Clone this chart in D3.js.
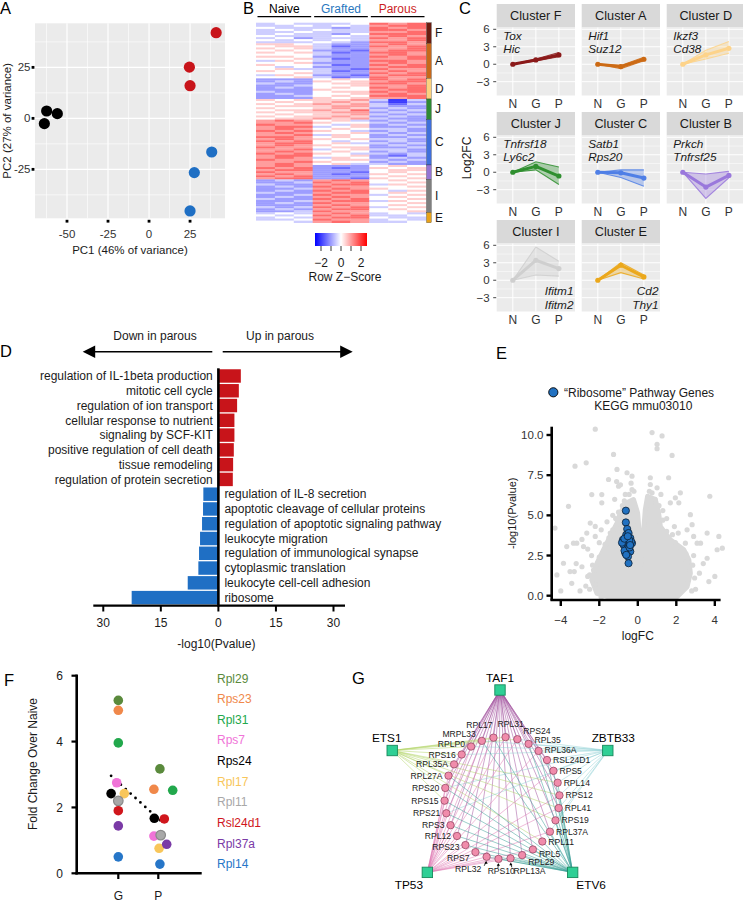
<!DOCTYPE html>
<html>
<head>
<meta charset="utf-8">
<script src="https://cdn.jsdelivr.net/npm/d3@7/dist/d3.min.js"></script>
<style>
html,body{margin:0;padding:0;background:#fff;}
svg{display:block;}
svg text{font-family:"Liberation Sans",Arial,Helvetica,sans-serif;}
</style>
</head>
<body>
<svg id="fig" width="743" height="902" viewBox="0 0 743 902"></svg>
<script>
// ======================= DATA =======================
// --- A: PCA ---
const pcaGroup = ["Naive","Naive","Naive","Grafted","Grafted","Grafted","Parous","Parous","Parous"];
const pc1 = [-62.4,-55.9,-63.8, 27.6,25.0,38.2, 24.6,25.0,40.9];
const pc2 = [3.6,2.3,-2.6, -26.6,-45.4,-16.5, 25.1,16.0,42.0];
const pcaXTicks = [-50,-25,0,25];
const pcaYTicks = [-25,0,25];

// --- B: heatmap (each digit d = Row Z-score (d-4)/2; columns N1 N2 N3 G1 G2 G3 P1 P2 P3) ---
const heatGroups = ["Naive","Grafted","Parous"];
const heatColumns = ["N1","N2","N3","G1","G2","G3","P1","P2","P3"];
const heatClusters = ["F","A","D","J","C","B","I","E"];
const heatRowsF = ["343334767","334343677","433323767","343433776","334333667","343324777","433343676","342333767","434343667","333432776"];
const heatRowsA = ["554322676","455312767","545322667","454221677","545312776","444322676","554222767","445312667","354322776","445222676","544312767","434222677","453321766","544312676","445322767","354221677","445312766"];
const heatRowsD = ["222454767","232545677","322455776","223445667","232454767","222544677","322455767","232445676","223454777","222545667"];
const heatRowsJ = ["545556303","454565202","545656313","455566322","544565232","455657323","545566232","454556323","545565232","455656322"];
const heatRowsC = ["676453232","667544323","766435232","677345223","676454332","767543232","676445323","667354232","776454223","676545332","767434232","677453323","676544232","766455223","667345332","676454232","767543323","677445213","676354232","766455323","667544232","676453322"];
const heatRowsB = ["676222454","767212545","677222455","766221454","676212545","767222454","677221545"];
const heatRowsI = ["232676454","223767445","322677354","232766445","223676544","232767435","322677454","223766345","232676454","322767445","223677354","232766445","222676454","323767345","232677454","223766445"];
const heatRowsE = ["343676343","434767334","343677433","334766343","443676334"];
const zTicks = [-2,-1,0,1,2];
const zTickLabels = [-2,0,2];

// --- C: cluster trajectories (Log2FC at N, G, P) ---
const stages = ["N","G","P"];
const clusterOrder = ["F","A","D","J","C","B","I","E"];
const clusterMean = [[0,0.74,1.6],[0,-0.4,0.86],[0,1.6,2.74],[0,1.0,-0.65],[0,-0.1,-1.0],[0,-2.55,-0.55],[0,3.43,2.0],[0,2.57,0.57]];
const clusterLow  = [[0,0.55,1.3],[0,-0.75,0.6],[0,0.9,1.9],[0,0.4,-2.1],[0,-0.9,-2.4],[0,-4.5,-0.95],[0,0.9,0.7],[0,1.3,0.2]];
const clusterHigh = [[0,0.9,2.0],[0,-0.2,1.2],[0,2.4,3.9],[0,1.8,0.9],[0,0.4,0.4],[0,-0.3,0.15],[0,5.7,3.26],[0,3.0,0.9]];
const clusterGenes = [["Tox","Hic"],["Hif1","Suz12"],["Ikzf3","Cd38"],["Tnfrsf18","Ly6c2"],["Satb1","Rps20"],["Prkch","Tnfrsf25"],["Ifitm1","Ifitm2"],["Cd2","Thy1"]];
const log2fcTicks = [-3,0,3,6];

// --- D: GO terms ---
const goTerms = ["regulation of IL-1beta production","mitotic cell cycle","regulation of ion transport","cellular response to nutrient","signaling by SCF-KIT","positive regulation of cell death","tissue remodeling","regulation of protein secretion","regulation of IL-8 secretion","apoptotic cleavage of cellular proteins","regulation of apoptotic signaling pathway","leukocyte migration","regulation of immunological synapse","cytoplasmic translation","leukocyte cell-cell adhesion","ribosome"];
const goNegLog10P = [5.85,5.33,4.88,4.18,4.18,4.02,3.84,3.76,3.92,4.0,4.26,4.78,5.04,5.22,7.99,22.6];
const goDirection = ["up","up","up","up","up","up","up","up","down","down","down","down","down","down","down","down"];
const goTicks = [-30,-15,0,15,30];

// --- E: volcano ---
const bgLogFC = [-2.21,0.74,1.26,1.0,1.0,-1.26,1.78,-3.26,-2.68,-1.08,-0.56,-0.3,-1.52,-1.1,-1.0,-0.35,-0.3,0.65,0.74,1.0,1.6,0.65,1.95,2.13,3.74,1.69,2.73,-1.87,-3.6,-4.3,-3.17,-2.9,-2.65,-2.21,-2.0,-2.6,-1.6,-1.43,2.56,2.9,2.47,3.26,3.6,4.21,4.12,4.39,2.9,2.3,-3.86,-4.2,-3.43,-3.2,-3.3,3.69,4.0,3.2,-1.87,-2.39,-0.65,-2.47,-2.21,-3.34,-2.82,-3.69,-3.52,-2.2,-2.7,3.6,3.08,2.82,2.21,-1.3,-1.6,-1.9,1.3,1.5,1.9,2.1,-2.4,-2.9,-1.2,0.9,1.2,-4.0,-3.0,3.0,3.4,-2.5,2.6,-0.9,
  -2.5,-2.6,-2.3,-2.0,-1.7,-1.3,-1.15,-0.8,-0.45,-0.2,0.6,1.1,1.3,1.5,1.95,2.5,2.85,2.95,2.8,-1.9,1.5,-2.35,2.6,1.8,-1.5,0.7,-0.7,-1.0];
const bgP     = [10.36,10.15,9.94,9.42,9.15,8.79,8.73,8.06,8.27,7.86,7.65,7.44,7.23,7.1,6.81,7.0,6.6,6.92,6.4,6.71,7.34,7.34,6.09,5.78,6.19,5.78,5.04,5.78,5.56,4.21,3.27,3.5,3.9,3.69,3.3,2.9,3.27,3.9,4.1,3.69,3.27,3.27,3.9,3.69,2.86,2.96,2.5,2.3,2.02,1.29,0.77,2.0,1.5,0.88,1.2,1.4,6.29,6.29,6.3,4.52,4.31,3.27,3.06,3.06,1.5,0.7,0.6,2.33,3.27,4.42,6.4,5.0,4.6,4.1,5.3,4.8,4.3,3.9,2.5,1.8,6.0,6.0,6.3,0.3,0.3,0.4,2.0,1.3,1.0,6.9,
  0.4,1.2,1.6,2.4,3.2,4.1,4.8,5.6,6.3,6.5,6.5,5.6,4.7,4.0,3.3,2.6,1.9,1.1,0.3,-0.1,-0.15,1.9,2.1,3.8,3.6,5.8,5.9,5.2];
const denseLogFC = [-2.12,-2.39,-2.12,-1.78,-1.43,-1.08,-0.91,-0.56,-0.22,-0.01,0.10,0.13,0.27,0.39,0.51,0.91,1.08,1.17,1.69,2.39,2.65,2.73,2.56,2.04,0.3,-1.26];
const denseP     = [0.15,0.98,2.02,2.86,3.69,4.52,5.15,5.78,5.98,5.15,3.48,1.81,3.48,5.36,6.19,5.98,5.15,4.31,3.48,2.86,2.23,1.40,0.56,-0.06,-0.15,-0.16];
const riboLogFC = [-0.62,-0.62,-0.55,-0.6,-0.77,-0.39,-0.56,-0.3,-0.74,-0.48,-0.56,-0.39,-0.65,-0.51,-0.6,-0.35,-0.82,-0.48,-0.69,-0.43,-0.48,-0.6,-0.45,-0.7,-0.52,-0.4];
const riboP     = [5.29,4.56,4.15,3.79,3.48,3.59,3.38,3.27,3.17,3.06,2.9,2.75,2.65,2.44,3.6,3.38,3.3,3.9,2.8,3.0,2.02,2.54,3.45,3.55,3.7,3.15];
const volXTicks = [-4,-2,0,2,4];
const volYTicks = [0,2.5,5,7.5,10];

// --- F: fold change ---
const fGenes = ["Rpl29","Rps23","Rpl31","Rps7","Rps24","Rpl17","Rpl11","Rsl24d1","Rpl37a","Rpl14"];
const foldG = [5.25,4.95,3.96,2.75,2.42,2.42,2.2,1.9,1.44,0.5];
const foldP = [3.17,2.55,2.52,1.13,1.67,0.76,1.16,1.65,0.88,0.28];
const jitterG = [0,0,0,-0.04,-0.18,0.15,0,0,0,0];
const jitterP = [0.04,-0.11,0.36,-0.11,-0.1,0.02,0.06,0.15,0.21,0.04];
const trendFold = [2.96,1.52];
const foldTicks = [0,2,4,6];
const fCategories = ["G","P"];

// --- G: network ---
const tfNames = ["TAF1","ZBTB33","ETV6","TP53","ETS1"];
const ringGenes = ["RPL17","RPL31","RPS24","RPL35","RPL36A","RSL24D1","RPS5","RPL14","RPS12","RPL41","RPS19","RPL37A","RPL11","RPL5","RPL29","RPL13A","RPS10","RPL32","RPS7","RPS23","RPL12","RPS3","RPS21","RPS15","RPS20","RPL27A","RPL35A","RPS16","RPLP0","MRPL33"];
const targetsTAF1 = ringGenes.slice();
const targetsZBTB33 = ["RPS24","RPL35","RPL36A","RSL24D1","RPS5","RPL14","RPS12","RPL41","RPS19","RPL37A","MRPL33","RPLP0","RPS16","RPS20","RPS21"];
const targetsETV6 = ["RPL29","RPL13A","RPS10","RPL32","RPS7","RPL5","RPL11","RPL37A","RPS19","RPL41","RPS12","RPL14","RPS5","RSL24D1","RPL36A","RPL35","RPS23","RPL12","RPS3","RPS21","RPS15","RPS20","RPL27A","MRPL33","RPL17"];
const targetsTP53 = ["RPS3","RPL12","RPS23","RPS7","RPL32","RPS10","RPL13A","RPS21","RPS15","RPS20","RPL27A","RPL35A","RPS16","RPLP0","MRPL33","RPL17","RPL31","RPS24","RPL36A","RPS5","RPS12","RPL41","RPL37A","RPL5"];
const targetsETS1 = ["MRPL33","RPLP0","RPS16","RPL35A","RPL27A","RPS20","RPS15","RPL17","RPL31","RPS24","RPL14","RPS12","RPL41","RPS19","RPL11"];

// ======================= DRAWING =======================
const svg = d3.select("#fig");
const TXT = "#1a1a1a", AX = "#333333";

function letter(t,x,y){ svg.append("text").attr("x",x).attr("y",y).attr("font-size",16.5).attr("fill","#000").text(t); }
letter("A",0,14); letter("B",243,14); letter("C",459,14); letter("D",0,357); letter("E",496,359); letter("F",4,686); letter("G",352,684);

// ---------- A ----------
(function(){
  const L=35,R=225,T=23.3,B=218.3;
  const x=d3.scaleLinear().domain([-69.5,46.3]).range([L,R]);
  const y=d3.scaleLinear().domain([-49,46.6]).range([B,T]);
  const g=svg.append("g");
  g.append("rect").attr("x",L).attr("y",T).attr("width",R-L).attr("height",B-T).attr("fill","#ebebeb");
  const xMinor=[pcaXTicks[0]-12.5].concat(pcaXTicks.map(v=>v+12.5));
  const yMinor=[pcaYTicks[0]-12.5].concat(pcaYTicks.map(v=>v+12.5));
  g.selectAll(null).data(xMinor).join("line").attr("x1",d=>x(d)).attr("x2",d=>x(d)).attr("y1",T).attr("y2",B).attr("stroke","#fff").attr("stroke-width",0.6);
  g.selectAll(null).data(yMinor).join("line").attr("y1",d=>y(d)).attr("y2",d=>y(d)).attr("x1",L).attr("x2",R).attr("stroke","#fff").attr("stroke-width",0.6);
  g.selectAll(null).data(pcaXTicks).join("line").attr("x1",d=>x(d)).attr("x2",d=>x(d)).attr("y1",T).attr("y2",B).attr("stroke","#fff").attr("stroke-width",1.2);
  g.selectAll(null).data(pcaYTicks).join("line").attr("y1",d=>y(d)).attr("y2",d=>y(d)).attr("x1",L).attr("x2",R).attr("stroke","#fff").attr("stroke-width",1.2);
  g.selectAll(null).data(pcaXTicks).join("rect").attr("x",d=>x(d)-1.4).attr("y",B+1.5).attr("width",2.8).attr("height",2.8).attr("fill","#000");
  g.selectAll(null).data(pcaYTicks).join("rect").attr("x",L-3.4).attr("y",d=>y(d)-1.4).attr("width",2.8).attr("height",2.8).attr("fill","#000");
  g.selectAll(null).data(pcaXTicks).join("text").attr("x",d=>x(d)).attr("y",237.5).attr("text-anchor","middle").attr("font-size",11.5).attr("fill",AX).text(d=>d3.format("")(d).replace("\u2212","-"));
  g.selectAll(null).data(pcaYTicks).join("text").attr("x",30.5).attr("y",d=>y(d)+4).attr("text-anchor","end").attr("font-size",11.5).attr("fill",AX).text(d=>d3.format("")(d).replace("\u2212","-"));
  const col={Naive:"#000000",Grafted:"#1f6fc4",Parous:"#c8141a"};
  g.selectAll(null).data(pc1.map((v,i)=>({x:v,y:pc2[i],g:pcaGroup[i]}))).join("circle")
    .attr("cx",d=>x(d.x)).attr("cy",d=>y(d.y)).attr("r",5.6).attr("fill",d=>col[d.g]);
  g.append("text").attr("x",(L+R)/2).attr("y",254).attr("text-anchor","middle").attr("font-size",11.5).attr("fill",TXT).text("PC1 (46% of variance)");
  g.append("text").attr("transform",`translate(11,${(T+B)/2}) rotate(-90)`).attr("text-anchor","middle").attr("font-size",11.5).attr("fill",TXT).text("PC2 (27% of variance)");
})();

// ---------- B ----------
const zColor = d3.scaleLinear().domain([-2.6,0,2.6]).range(["#0000ff","#ffffff","#ff0000"]).clamp(true);
(function(){
  const L=256,R=426,T=22.7,B=222.7;
  const clusterRows={F:heatRowsF,A:heatRowsA,D:heatRowsD,J:heatRowsJ,C:heatRowsC,B:heatRowsB,I:heatRowsI,E:heatRowsE};
  const rows=[];
  heatClusters.forEach(c=>clusterRows[c].forEach(s=>rows.push({c,s})));
  const x=d3.scaleBand().domain(heatColumns).range([L,R]);
  const y=d3.scaleBand().domain(d3.range(rows.length)).range([T,B]);
  const g=svg.append("g");
  const cells=[];
  rows.forEach((r,i)=>heatColumns.forEach((col,j)=>cells.push({i,col,z:(+r.s[j]-4)/2})));
  g.selectAll(null).data(cells).join("rect").attr("x",d=>x(d.col)).attr("y",d=>y(d.i)).attr("width",x.bandwidth()+0.3).attr("height",y.bandwidth()+0.3).attr("fill",d=>zColor(d.z));
  const gc={Naive:"#000",Grafted:"#2a78c0",Parous:"#cc1f1f"};
  heatGroups.forEach((grp,k)=>{
    const x0=x(heatColumns[k*3]), x1=x(heatColumns[k*3+2])+x.bandwidth();
    g.append("line").attr("x1",x0+1.5).attr("x2",x1-1.5).attr("y1",16.7).attr("y2",16.7).attr("stroke","#000").attr("stroke-width",1.3);
    g.append("text").attr("x",(x0+x1)/2).attr("y",13).attr("text-anchor","middle").attr("font-size",12).attr("fill",gc[grp]).text(grp);
  });
  const cc={F:"#6b1c10",A:"#c8691a",D:"#fcd27e",J:"#2e8a34",C:"#3f6fdc",B:"#9573d4",I:"#7f7f7f",E:"#e8a21a"};
  heatClusters.forEach(c=>{
    const idx=rows.map((r,i)=>r.c===c?i:-1).filter(i=>i>=0);
    const y0=y(idx[0]), y1=y(idx[idx.length-1])+y.bandwidth();
    g.append("rect").attr("x",R+0.5).attr("y",y0).attr("width",4.8).attr("height",y1-y0).attr("fill",cc[c]).attr("stroke","#222").attr("stroke-width",0.3);
    g.append("text").attr("x",R+9).attr("y",(y0+y1)/2+4.2).attr("font-size",12).attr("fill",TXT).text(c);
  });
  const k=d3.scaleLinear().domain([-2.6,2.6]).range([315,367]);
  const defs=svg.append("defs");
  const lg=defs.append("linearGradient").attr("id","zgrad");
  d3.range(0,1.0001,0.1).forEach(t=>lg.append("stop").attr("offset",t).attr("stop-color",zColor(-2.6+5.2*t)));
  g.append("rect").attr("x",315).attr("y",233).attr("width",52).attr("height",13).attr("fill","url(#zgrad)");
  g.selectAll(null).data(zTicks).join("line").attr("x1",d=>k(d)).attr("x2",d=>k(d)).attr("y1",246).attr("y2",251).attr("stroke","#000").attr("stroke-width",0.8);
  g.selectAll(null).data(zTickLabels).join("text").attr("x",d=>k(d)).attr("y",266.5).attr("text-anchor","middle").attr("font-size",12).attr("fill",TXT).text(d=>d3.format("")(d));
  g.append("text").attr("x",345).attr("y",281).attr("text-anchor","middle").attr("font-size",12).attr("fill",TXT).text("Row Z\u2212Score");
})();

// ---------- C ----------
(function(){
  const colX=[496.7,581.7,666.7], W=78.3, stripH=23.5, H=68;
  const ccol={F:"#8b1a1a",A:"#cc6a14",D:"#fdd38a",J:"#2f8f2f",C:"#4f7fe6",B:"#9a78dc",I:"#cfcfcf",E:"#eba81c"};
  const g=svg.append("g");
  clusterOrder.forEach((c,k)=>{
    const col=k%3,row=Math.floor(k/3);
    const L=colX[col], sT=4+row*108, T=sT+stripH, B=T+H;
    const x=d3.scalePoint().domain(stages).range([L,L+W]).padding(0.7);
    const y=d3.scaleLinear().domain([-5.37,6.31]).range([B,T]);
    g.append("rect").attr("x",L).attr("y",sT).attr("width",W).attr("height",stripH).attr("fill","#d9d9d9");
    g.append("text").attr("x",L+W/2).attr("y",sT+stripH/2+4.5).attr("text-anchor","middle").attr("font-size",12.7).attr("fill",TXT).text("Cluster "+c);
    g.append("rect").attr("x",L).attr("y",T).attr("width",W).attr("height",H).attr("fill","#ebebeb");
    const minor=log2fcTicks.slice(0,-1).map(v=>v+1.5);
    g.selectAll(null).data(minor).join("line").attr("x1",L).attr("x2",L+W).attr("y1",d=>y(d)).attr("y2",d=>y(d)).attr("stroke","#fff").attr("stroke-width",0.5);
    g.selectAll(null).data(log2fcTicks).join("line").attr("x1",L).attr("x2",L+W).attr("y1",d=>y(d)).attr("y2",d=>y(d)).attr("stroke","#fff").attr("stroke-width",1);
    g.selectAll(null).data(stages).join("line").attr("x1",d=>x(d)).attr("x2",d=>x(d)).attr("y1",T).attr("y2",B).attr("stroke","#fff").attr("stroke-width",1);
    const pts=stages.map((s,i)=>({s,m:clusterMean[k][i],lo:clusterLow[k][i],hi:clusterHigh[k][i]}));
    const color=ccol[c];
    g.append("path").datum(pts).attr("d",d3.area().x(d=>x(d.s)).y0(d=>y(d.lo)).y1(d=>y(d.hi))).attr("fill",color).attr("fill-opacity",0.35);
    ["lo","hi"].forEach(key=>g.append("path").datum(pts).attr("d",d3.line().x(d=>x(d.s)).y(d=>y(d[key]))).attr("fill","none").attr("stroke",color).attr("stroke-width",1.1).attr("stroke-opacity",0.85));
    g.append("path").datum(pts).attr("d",d3.line().x(d=>x(d.s)).y(d=>y(d.m))).attr("fill","none").attr("stroke",color).attr("stroke-width",3).attr("stroke-linejoin","round");
    g.selectAll(null).data(pts).join("circle").attr("cx",d=>x(d.s)).attr("cy",d=>y(d.m)).attr("r",2.6).attr("fill",color);
    const genes=clusterGenes[k];
    if(row<2){
      genes.forEach((t,i)=>g.append("text").attr("x",L+6.5).attr("y",T+12+i*13).attr("font-size",11.8).attr("font-style","italic").attr("fill",TXT).text(t));
    } else {
      genes.forEach((t,i)=>g.append("text").attr("x",L+W-1.5).attr("y",T+51+i*14).attr("text-anchor","end").attr("font-size",11.8).attr("font-style","italic").attr("fill",TXT).text(t));
    }
    g.selectAll(null).data(stages).join("text").attr("x",d=>x(d)).attr("y",B+12.5).attr("text-anchor","middle").attr("font-size",12).attr("fill",AX).text(d=>d);
    if(col===0){
      g.selectAll(null).data(log2fcTicks).join("line").attr("x1",L-3.5).attr("x2",L-0.5).attr("y1",d=>y(d)).attr("y2",d=>y(d)).attr("stroke",AX).attr("stroke-width",0.9);
      g.selectAll(null).data(log2fcTicks).join("text").attr("x",L-7).attr("y",d=>y(d)+4).attr("text-anchor","end").attr("font-size",11.5).attr("fill",AX).text(d=>d3.format("")(d));
    }
  });
  g.append("text").attr("transform","translate(471,158) rotate(-90)").attr("text-anchor","middle").attr("font-size",12).attr("fill",TXT).text("Log2FC");
})();

// ---------- D ----------
(function(){
  const g=svg.append("g");
  const x=d3.scaleLinear().domain([-32.6,33]).range([93.3,345]);
  const y=d3.scaleBand().domain(goTerms).range([368.6,605]).paddingInner(0.09).paddingOuter(0.045);
  const data=goTerms.map((t,i)=>({t,v:goNegLog10P[i],dir:goDirection[i]}));
  g.selectAll(null).data(data).join("rect")
    .attr("x",d=>d.dir==="up"?x(0):x(-d.v)).attr("y",d=>y(d.t)).attr("width",d=>Math.abs(x(d.v)-x(0))).attr("height",y.bandwidth())
    .attr("fill",d=>d.dir==="up"?"#c8141a":"#1f6fc4");
  g.selectAll(null).data(data).join("text")
    .attr("x",d=>d.dir==="up"?x(0)-5.6:x(0)+6).attr("y",d=>y(d.t)+y.bandwidth()/2+4.2)
    .attr("text-anchor",d=>d.dir==="up"?"end":"start").attr("font-size",12).attr("fill",TXT).text(d=>d.t);
  g.append("line").attr("x1",x(0)).attr("x2",x(0)).attr("y1",368.3).attr("y2",606.5).attr("stroke","#000").attr("stroke-width",2.6);
  g.append("line").attr("x1",93.3).attr("x2",345).attr("y1",605.7).attr("y2",605.7).attr("stroke","#000").attr("stroke-width",2.2);
  g.selectAll(null).data(goTicks).join("line").attr("x1",d=>x(d)).attr("x2",d=>x(d)).attr("y1",605.7).attr("y2",611.5).attr("stroke","#000").attr("stroke-width",2);
  g.selectAll(null).data(goTicks).join("text").attr("x",d=>x(d)).attr("y",627).attr("text-anchor","middle").attr("font-size",12).attr("fill",TXT).text(d=>Math.abs(d));
  g.append("text").attr("x",x(0)-2).attr("y",647.5).attr("text-anchor","middle").attr("font-size",12).attr("fill",TXT).text("-log10(Pvalue)");
  const ay=351.7;
  g.append("line").attr("x1",212.3).attr("x2",94).attr("y1",ay).attr("y2",ay).attr("stroke","#000").attr("stroke-width",1.5);
  g.append("path").attr("d",`M82.7,${ay}L95.2,${ay-6.3}L95.2,${ay+6.3}Z`).attr("fill","#000");
  g.append("line").attr("x1",222.7).attr("x2",341).attr("y1",ay).attr("y2",ay).attr("stroke","#000").attr("stroke-width",1.5);
  g.append("path").attr("d",`M352.7,${ay}L340.2,${ay-6.3}L340.2,${ay+6.3}Z`).attr("fill","#000");
  g.append("text").attr("x",155).attr("y",339.5).attr("text-anchor","middle").attr("font-size",12).attr("fill",TXT).text("Down in parous");
  g.append("text").attr("x",280).attr("y",339.5).attr("text-anchor","middle").attr("font-size",12).attr("fill",TXT).text("Up in parous");
})();

// ---------- E ----------
(function(){
  const g=svg.append("g");
  const x=d3.scaleLinear().domain([-4.3,4.3]).range([555,720.6]);
  const y=d3.scaleLinear().domain([0,10]).range([595.7,435]);
  const gray="#d9d9d9";
  const outline=denseLogFC.map((v,i)=>[x(v),y(denseP[i])]);
  g.append("path").attr("d",d3.line().curve(d3.curveLinearClosed)(outline)).attr("fill",gray).attr("stroke",gray).attr("stroke-width",5).attr("stroke-linejoin","round");
  g.selectAll(null).data(bgLogFC.map((v,i)=>[v,bgP[i]])).join("circle").attr("cx",d=>x(d[0])).attr("cy",d=>y(d[1])).attr("r",2.6).attr("fill",gray);
  g.selectAll(null).data(riboLogFC.map((v,i)=>[v,riboP[i]])).join("circle").attr("cx",d=>x(d[0])).attr("cy",d=>y(d[1])).attr("r",3.6).attr("fill","#2171c1").attr("stroke","#0b1f33").attr("stroke-width",0.8);
  g.append("line").attr("x1",551.7).attr("x2",551.7).attr("y1",426.7).attr("y2",600.5).attr("stroke","#000").attr("stroke-width",2.6);
  g.append("line").attr("x1",550.5).attr("x2",720.6).attr("y1",600).attr("y2",600).attr("stroke","#000").attr("stroke-width",2.6);
  g.selectAll(null).data(volYTicks).join("line").attr("x1",546.5).attr("x2",551.7).attr("y1",d=>y(d)).attr("y2",d=>y(d)).attr("stroke","#000").attr("stroke-width",2.4);
  g.selectAll(null).data(volXTicks).join("line").attr("x1",d=>x(d)).attr("x2",d=>x(d)).attr("y1",600).attr("y2",606).attr("stroke","#000").attr("stroke-width",2.4);
  g.selectAll(null).data(volYTicks).join("text").attr("x",543.5).attr("y",d=>y(d)+4).attr("text-anchor","end").attr("font-size",11.5).attr("fill",AX).text(d=>d3.format(".1f")(d));
  g.selectAll(null).data(volXTicks).join("text").attr("x",d=>x(d)).attr("y",624).attr("text-anchor","middle").attr("font-size",11.5).attr("fill",AX).text(d=>d3.format("")(d));
  g.append("text").attr("x",x(0)).attr("y",639.5).attr("text-anchor","middle").attr("font-size",12).attr("fill",TXT).text("logFC");
  g.append("text").attr("transform",`translate(516,${(426.7+600)/2}) rotate(-90)`).attr("text-anchor","middle").attr("font-size",11).attr("fill",TXT).text("-log10(Pvalue)");
  g.append("circle").attr("cx",553.3).attr("cy",392.3).attr("r",4.6).attr("fill","#2171c1").attr("stroke","#000").attr("stroke-width",0.9);
  g.append("text").attr("x",564).attr("y",396.5).attr("font-size",12).attr("fill",TXT).text("\u201CRibosome\u201D Pathway Genes");
  g.append("text").attr("x",643.3).attr("y",409.5).attr("text-anchor","middle").attr("font-size",12).attr("fill",TXT).text("KEGG mmu03010");
})();

// ---------- F ----------
(function(){
  const g=svg.append("g");
  const x=d3.scalePoint().domain(fCategories).range([118.3,158.3]);
  const step=x.step();
  const y=d3.scaleLinear().domain([0,6]).range([873.3,675.7]);
  const fColors=["#5a8a3c","#f0884a","#22a84c","#f074d8","#000000","#f8c65a","#a8a8a8","#d0161c","#7a3aa6","#2676c8"];
  g.append("line").attr("x1",76.7).attr("x2",76.7).attr("y1",674.5).attr("y2",874.5).attr("stroke","#000").attr("stroke-width",2.6);
  g.append("line").attr("x1",75.4).attr("x2",201.7).attr("y1",873.3).attr("y2",873.3).attr("stroke","#000").attr("stroke-width",2.4);
  g.selectAll(null).data(foldTicks).join("line").attr("x1",71.5).attr("x2",76.7).attr("y1",d=>y(d)).attr("y2",d=>y(d)).attr("stroke","#000").attr("stroke-width",2.2);
  g.selectAll(null).data(fCategories).join("line").attr("x1",d=>x(d)).attr("x2",d=>x(d)).attr("y1",873.3).attr("y2",879).attr("stroke","#000").attr("stroke-width",2.2);
  g.selectAll(null).data(foldTicks).join("text").attr("x",63).attr("y",d=>y(d)+4.2).attr("text-anchor","end").attr("font-size",12).attr("fill",TXT).text(d=>d);
  g.selectAll(null).data(fCategories).join("text").attr("x",d=>x(d)).attr("y",899.5).attr("text-anchor","middle").attr("font-size",12).attr("fill",TXT).text(d=>d);
  g.append("text").attr("transform",`translate(37,764) rotate(-90)`).attr("text-anchor","middle").attr("font-size",12).attr("fill",TXT).text("Fold Change Over Naive");
  g.append("line").attr("x1",x("G")-0.18*step).attr("y1",y(trendFold[0])).attr("x2",x("P")+0.125*step).attr("y2",y(trendFold[1]))
    .attr("stroke","#000").attr("stroke-width",2.8).attr("stroke-linecap","round").attr("stroke-dasharray","0,6.6");
  const pts=[];
  fGenes.forEach((gn,i)=>{pts.push({c:"G",v:foldG[i],j:jitterG[i],col:fColors[i],gray:gn==="Rpl11"});});
  fGenes.forEach((gn,i)=>{pts.push({c:"P",v:foldP[i],j:jitterP[i],col:fColors[i],gray:gn==="Rpl11"});});
  g.selectAll(null).data(pts).join("circle").attr("cx",d=>x(d.c)+d.j*step).attr("cy",d=>y(d.v)).attr("r",4.8)
    .attr("fill",d=>d.col).attr("stroke",d=>d.gray?"#8a8a8a":"none").attr("stroke-width",1.2);
  g.selectAll(null).data(fGenes).join("text").attr("x",217).attr("y",(d,i)=>682.5+i*20.66).attr("font-size",12).attr("fill",(d,i)=>fColors[i]).text(d=>d);
})();

// ---------- G ----------
(function(){
  const g=svg.append("g");
  const rcx=502, rcy=798, rrx=57.5, rry=61, start=-8.5;
  const ring=ringGenes.map((name,i)=>{
    const a=(start+i*360/ringGenes.length)*Math.PI/180;
    return {name,a,x:rcx+rrx*Math.sin(a),y:rcy-rry*Math.cos(a)};
  });
  const byName=Object.fromEntries(ring.map(n=>[n.name,n]));
  const tfAngles=[0,66,142,218,294];
  const tcx=500,tcy=792,trx=118,try_=102;
  const tfs=tfNames.map((name,i)=>{const a=tfAngles[i]*Math.PI/180;return {name,a,x:tcx+trx*Math.sin(a),y:tcy-try_*Math.cos(a)};});
  const tfByName=Object.fromEntries(tfs.map(t=>[t.name,t]));
  const edgeSets=[["TAF1",targetsTAF1,"#a0509c"],["ETS1",targetsETS1,"#b3d66a"],["ZBTB33",targetsZBTB33,"#93d2d6"],["TP53",targetsTP53,"#e07ab4"],["ETV6",targetsETV6,"#3a9f96"]];
  edgeSets.forEach(([tf,list,color])=>{
    const t=tfByName[tf];
    g.selectAll(null).data(list).join("line").attr("x1",t.x).attr("y1",t.y).attr("x2",d=>byName[d].x).attr("y2",d=>byName[d].y)
      .attr("stroke",color).attr("stroke-width",0.6).attr("stroke-opacity",0.85);
  });
  g.selectAll(null).data(ring).join("circle").attr("cx",d=>d.x).attr("cy",d=>d.y).attr("r",3.7).attr("fill","#f08cab").attr("stroke","#8c3c5a").attr("stroke-width",0.7);
  ring.forEach(n=>{
    const s=Math.sin(n.a), c=Math.cos(n.a);
    let anchor, lx, ly, arrow=false;
    if(Math.abs(s)<0.2 && c>0){ anchor=s<0?"end":"start"; lx=n.x+(s<0?-1:-8); ly=n.y-10; }
    else if(Math.abs(s)<0.3 && c<0){ anchor=s>0.1?"start":(s<-0.1?"end":"middle"); lx=n.x+s*20+(anchor==="middle"?4:0); ly=n.y+15.5; arrow=true; }
    else {
      anchor=s>0?"start":"end"; lx=n.x+(s>0?6:-6);
      const shift = c>0 ? -126*Math.pow(Math.max(0,c-0.7),2) : Math.max(0,-c-0.7)*30;
      ly=n.y+3.1+shift;
    }
    g.append("text").attr("x",lx).attr("y",ly).attr("text-anchor",anchor).attr("font-size",8.6).attr("fill",TXT).text(n.name);
    if(arrow){
      const ax=n.x+s*9, ay=n.y+9;
      g.append("line").attr("x1",ax).attr("y1",ay).attr("x2",n.x+s*2).attr("y2",n.y+5).attr("stroke","#000").attr("stroke-width",0.8);
      g.append("path").attr("d",`M${n.x+s*2},${n.y+4.3}l-1.6,2.6l3.2,0Z`).attr("fill","#000");
    }
  });
  g.selectAll(null).data(tfs).join("rect").attr("x",d=>d.x-5.2).attr("y",d=>d.y-5.2).attr("width",10.4).attr("height",10.4).attr("fill","#2fcf95").attr("stroke","#178a5c").attr("stroke-width",0.9);
  tfs.forEach(t=>{
    const s=Math.sin(t.a), c=Math.cos(t.a);
    const below=c<0;
    g.append("text").attr("x",t.x+(below?s*30:s*6)).attr("y",below?t.y+17:t.y-8.5).attr("text-anchor","middle").attr("font-size",11.8).attr("fill","#000").text(t.name);
  });
})();
</script>
</body>
</html>
